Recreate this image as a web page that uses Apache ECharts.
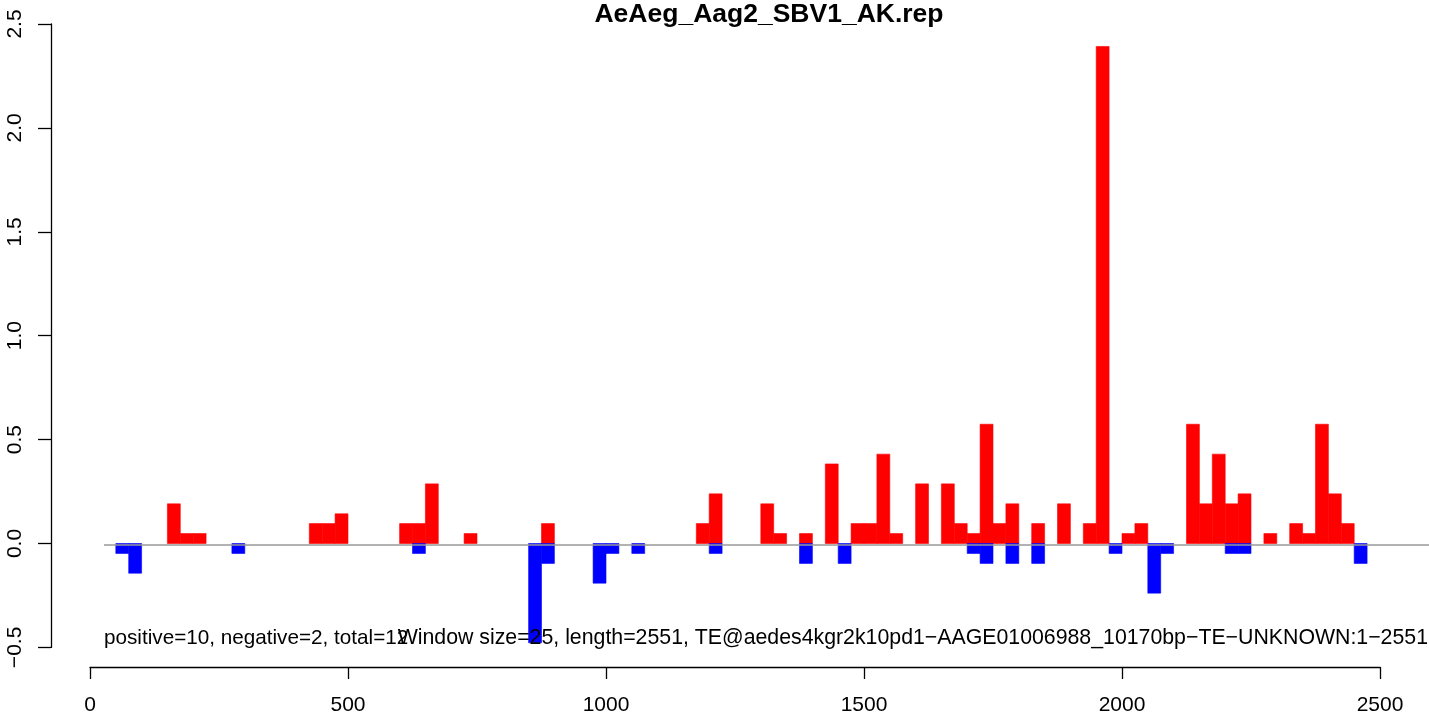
<!DOCTYPE html>
<html>
<head>
<meta charset="utf-8">
<script src="https://cdn.jsdelivr.net/npm/echarts@6/dist/echarts.min.js"></script>
<style>
  html, body { margin: 0; padding: 0; background: #fff; }
  #main { width: 1429px; height: 716px; }
</style>
</head>
<body>
<div id="main"></div>
<script>
// window starts (bp) and scores for sense / antisense reads
const windowSize = 25;
const posBins = [150, 175, 200, 425, 450, 475, 600, 625, 650, 725, 875, 1175, 1200, 1300, 1325, 1375,
    1425, 1475, 1500, 1525, 1550, 1600, 1650, 1675, 1700, 1725, 1750, 1775, 1825, 1875, 1925, 1950,
    2000, 2025, 2125, 2150, 2175, 2200, 2225, 2275, 2325, 2350, 2375, 2400, 2425];
const posVals = [0.191, 0.048, 0.048, 0.096, 0.096, 0.143, 0.096, 0.096, 0.287, 0.048, 0.096, 0.096, 0.239, 0.191, 0.048, 0.048,
    0.383, 0.096, 0.096, 0.430, 0.048, 0.287, 0.287, 0.096, 0.048, 0.574, 0.096, 0.191, 0.096, 0.191, 0.096, 2.392,
    0.048, 0.096, 0.574, 0.191, 0.430, 0.191, 0.239, 0.048, 0.096, 0.048, 0.574, 0.239, 0.096];
const negBins = [50, 75, 275, 625, 850, 875, 975, 1000, 1050, 1200, 1375, 1450, 1700, 1725, 1775, 1825,
    1975, 2050, 2075, 2200, 2225, 2450];
const negVals = [-0.048, -0.143, -0.048, -0.048, -0.478, -0.096, -0.191, -0.048, -0.048, -0.048, -0.096, -0.096, -0.048, -0.096, -0.096, -0.096,
    -0.048, -0.239, -0.048, -0.048, -0.048, -0.096];

const mainTitle = 'AeAeg_Aag2_SBV1_AK.rep';
const leftNote = 'positive=10, negative=2, total=12';
const rightNote = 'Window size=25, length=2551, TE@aedes4kgr2k10pd1\u2212AAGE01006988_10170bp\u2212TE\u2212UNKNOWN:1\u22122551';

const font = "'Liberation Sans', Helvetica, Arial, sans-serif";

function zip(a, b) {
    return a.map((v, i) => [v, b[i]]);
}

function barRenderer(color) {
    return function(params, api) {
        let x0 = api.value(0), v = api.value(1);
        let p0 = api.coord([x0, 0]);
        let p1 = api.coord([x0 + windowSize, v]);
        return {
            type: 'rect',
            shape: {
                x: p0[0],
                y: Math.min(p0[1], p1[1]),
                width: p1[0] - p0[0],
                height: Math.abs(p1[1] - p0[1])
            },
            style: { fill: color, stroke: color, lineWidth: 0.6 }
        };
    };
}

var myChart = echarts.init(document.getElementById('main'), null, { renderer: 'canvas' });

var option = {
    animation: false,
    backgroundColor: '#ffffff',
    title: [
        {
            text: mainTitle,
            left: 769, top: 1, textAlign: 'center', padding: 0,
            textStyle: { fontFamily: font, fontSize: 26.5, fontWeight: 'bold', color: '#000' }
        },
        {
            text: leftNote,
            left: 104, top: 628, padding: 0,
            textStyle: { fontFamily: font, fontSize: 20.7, fontWeight: 'normal', color: '#000' }
        },
        {
            text: rightNote,
            right: 1, top: 628, padding: 0,
            textStyle: { fontFamily: font, fontSize: 21.3, fontWeight: 'normal', color: '#000' }
        }
    ],
    grid: [
        // plot region (baseline spans it)
        { left: 104, right: 0, top: 24, bottom: 67.3 },
        // axes region (0..2500, -0.5..2.5)
        { left: 90, right: 49, top: 24, bottom: 67.3 }
    ],
    xAxis: [
        { gridIndex: 0, type: 'value', min: 0, max: 1, show: false },
        {
            gridIndex: 1, type: 'value', min: 0, max: 2500, interval: 500,
            position: 'bottom', offset: 19.6,
            axisLine: { show: true, onZero: false, lineStyle: { color: '#000', width: 1.3 } },
            axisTick: { show: true, length: 12, lineStyle: { color: '#000', width: 1.3 } },
            axisLabel: { fontFamily: font, fontSize: 21, color: '#000', margin: 28, formatter: v => String(v) },
            splitLine: { show: false }
        }
    ],
    yAxis: [
        { gridIndex: 0, type: 'value', min: -0.5, max: 2.5, show: false },
        {
            gridIndex: 1, type: 'value', min: -0.5, max: 2.5, interval: 0.5,
            position: 'left', offset: 39,
            axisLine: { show: true, onZero: false, lineStyle: { color: '#000', width: 1.3 } },
            axisTick: { show: true, length: 13, lineStyle: { color: '#000', width: 1.3 } },
            axisLabel: {
                fontFamily: font, fontSize: 21, color: '#000', rotate: 90, margin: 25,
                formatter: v => v.toFixed(1).replace('-', '\u2212')
            },
            splitLine: { show: false }
        }
    ],
    series: [
        {
            name: 'sense',
            type: 'custom',
            xAxisIndex: 1, yAxisIndex: 1,
            renderItem: barRenderer('#ff0000'),
            data: zip(posBins, posVals),
            z: 2
        },
        {
            name: 'antisense',
            type: 'custom',
            xAxisIndex: 1, yAxisIndex: 1,
            renderItem: barRenderer('#0000ff'),
            data: zip(negBins, negVals),
            z: 2
        },
        {
            name: 'baseline',
            type: 'line',
            xAxisIndex: 0, yAxisIndex: 0,
            data: [],
            z: 5,
            markLine: {
                silent: true,
                symbol: 'none',
                label: { show: false },
                lineStyle: { color: '#999999', width: 1.6, type: 'solid' },
                data: [{ yAxis: 0 }]
            }
        }
    ]
};

myChart.setOption(option);
</script>
</body>
</html>
